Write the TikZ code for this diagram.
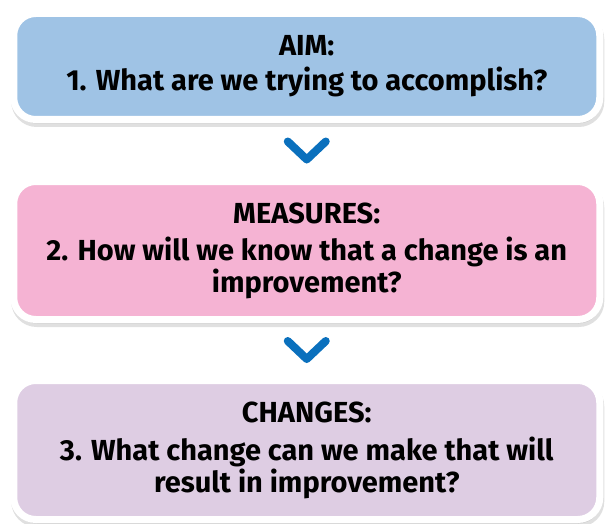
\documentclass[tikz,border=0pt]{standalone}
\usepackage{fontspec}
\setmainfont{Fira Sans}
\definecolor{aimblue}{HTML}{9FC3E5}
\definecolor{measurepink}{HTML}{F5B3D3}
\definecolor{changelilac}{HTML}{DECDE3}
\definecolor{chevronblue}{HTML}{0A70BD}
\usetikzlibrary{positioning,calc,shadows}

\tikzset{
  stagebox/.style={draw=white, line width=7pt, rounded corners=22pt,
        minimum width=586pt, align=center, font=\fontsize{29}{32}\selectfont\bfseries,
        drop shadow={shadow xshift=1pt, shadow yshift=-4pt, fill=black!30,
                     draw=black!30, line width=7pt, opacity=.4}},
  chevron/.style={draw=chevronblue, line width=8pt, line cap=round, line join=round}
}

\begin{document}
\begin{tikzpicture}[x=1pt, y=-1pt]
  \useasboundingbox (0,0) rectangle (605,524);
  % the three questions
  \node[stagebox, fill=aimblue, minimum height=106pt] (aim) at (306.75,66.5)
    {AIM:\\[3pt]1. What are we trying to accomplish?};
  \node[stagebox, fill=measurepink, minimum height=138pt] (measures) at (306.75,250.5)
    {MEASURES:\\[5pt]2. How will we know that a change is an\\improvement?};
  \node[stagebox, fill=changelilac, minimum height=139pt] (changes) at (306.75,450)
    {CHANGES:\\[6pt]3. What change can we make that will\\result in improvement?};
  % chevrons between the boxes
  \foreach \top/\bot in {aim/measures, measures/changes} {
    \coordinate (mid) at ($(\top.south)!0.5!(\bot.north)$);
    \draw[chevron] ($(mid)+(-19,-9)$) -- ($(mid)+(0,9)$) -- ($(mid)+(19,-9)$);
  }
\end{tikzpicture}
\end{document}
